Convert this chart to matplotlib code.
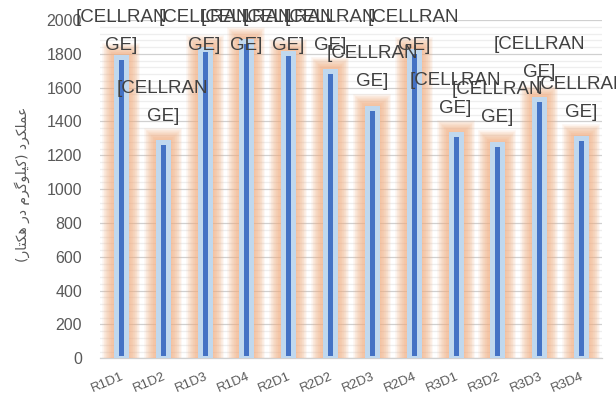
import matplotlib
matplotlib.use("Agg")
import matplotlib.pyplot as plt
import matplotlib.patheffects as pe
from matplotlib.ticker import MultipleLocator
from matplotlib import font_manager

categories = ["R1D1", "R1D2", "R1D3", "R1D4", "R2D1", "R2D2", "R2D3", "R2D4",
              "R3D1", "R3D2", "R3D3", "R3D4"]
values = [1784, 1277, 1829, 1874, 1803, 1697, 1480, 1819, 1326, 1267, 1533, 1302]
label_line1 = "[CELLRAN"
label_line2 = "GE]"
y_ticks = [0, 200, 400, 600, 800, 1000, 1200, 1400, 1600, 1800, 2000]

# Persian axis title, pre-shaped (presentation forms) in visual order
ylabel_text = ("(" + "\ufeeb\ufb91\ufe98\ufe8e\ufead"[::-1] + " " +
               "\ufea9\ufead"[::-1] + " " +
               "\ufb90\ufbff\ufee0\ufeee\ufb94\ufeae\ufee1"[::-1] + ")" + " " +
               "\ufecb\ufee4\ufee0\ufb91\ufeae\ufea9"[::-1])

names = {f.name for f in font_manager.fontManager.ttflist}
label_font = "Liberation Sans Narrow" if "Liberation Sans Narrow" in names else "Liberation Sans"
tick_font = "Liberation Sans"
label_size = 15.5 if label_font.endswith("Narrow") else 13.5

W, H = 616, 401
fig = plt.figure(figsize=(W / 100, H / 100), dpi=100)
ax = fig.add_axes([100 / W, 42.7 / H, 502 / W, 338.3 / H])

x = list(range(len(categories)))
ax.set_xlim(-0.5, len(categories) - 0.5)
ax.set_ylim(0, 2000)

px_per_unit_x = 502 / len(categories)
bar_w = 10 / px_per_unit_x

glow = [pe.Stroke(linewidth=lw, foreground="#F4B183", alpha=0.075)
        for lw in range(20, 4, -1)]
bars = ax.bar(x, values, width=bar_w, color="#4472C4", edgecolor="#C0D8EE",
              linewidth=3.6, zorder=3)
for b in bars:
    b.set_path_effects(glow + [pe.Normal()])
    b.set_joinstyle("miter")

# grid
ax.yaxis.set_major_locator(MultipleLocator(200))
ax.yaxis.set_minor_locator(MultipleLocator(40))
ax.grid(which="major", axis="y", color="#D0D0D0", linewidth=0.9, zorder=0)
ax.grid(which="minor", axis="y", color="#EEEEEE", linewidth=0.9, zorder=0)
ax.set_axisbelow(True)
for s in ["left", "right", "top"]:
    ax.spines[s].set_visible(False)
ax.spines["bottom"].set_color("#D0D0D0")
ax.spines["bottom"].set_linewidth(0.9)

ax.set_yticks(y_ticks)
ax.set_yticklabels([str(v) for v in y_ticks], fontsize=11.5, color="#595959",
                   family=tick_font)
ax.tick_params(axis="y", which="both", length=0, pad=13)
ax.set_xticks(x)
ax.set_xticklabels(categories, rotation=23, ha="right", rotation_mode="anchor",
                   fontsize=9.5, color="#595959", family=tick_font)
ax.tick_params(axis="x", which="both", length=0, pad=9)

# data labels
unit_per_px = 2000 / 338.3
for xi, v in zip(x, values):
    y2 = min(v + 26 * unit_per_px, 2000 - 26 * unit_per_px)
    y1 = y2 + 28 * unit_per_px
    ax.text(xi, y2, label_line2, ha="center", va="center", fontsize=label_size,
            color="#404040", family=label_font, zorder=5, clip_on=False)
    ax.text(xi, y1, label_line1, ha="center", va="center", fontsize=label_size,
            color="#404040", family=label_font, zorder=5, clip_on=False)

fig.text(22 / W, 1 - 184 / H, ylabel_text, rotation=90, ha="center", va="center",
         fontsize=10, color="#595959", family=["DejaVu Sans"])

fig.savefig("out.png", dpi=100)
